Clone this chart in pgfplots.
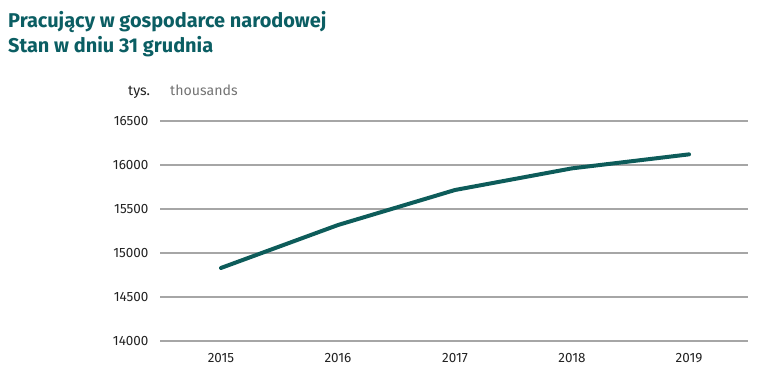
\documentclass[border=0pt]{standalone}
\usepackage{pgfplots}
\pgfplotsset{compat=1.18}
\usepackage{fontspec}
\setmainfont{Fira Sans}
\definecolor{teal1}{HTML}{0B5E63}
\definecolor{lineC}{HTML}{0D5C5A}
\definecolor{gridC}{HTML}{A6A6A6}
\definecolor{tickC}{HTML}{222222}
\begin{document}
\begin{tikzpicture}[x=1bp,y=1bp]
\useasboundingbox (0,0) rectangle (775,391);
\node[anchor=base west,inner sep=0,text=teal1,font=\bfseries\fontsize{20}{22}\selectfont] at (8,364) {Pracujący w gospodarce narodowej};
\node[anchor=base west,inner sep=0,text=teal1,font=\bfseries\fontsize{20}{22}\selectfont] at (8,339) {Stan w dniu 31 grudnia};
\node[anchor=base west,inner sep=0,text=tickC,font=\fontsize{14.2}{16}\selectfont] at (128,296) {tys.};
\node[anchor=base west,inner sep=0,text=gray!90!black,font=\fontsize{14.2}{16}\selectfont] at (170,296) {thousands};
\begin{axis}[
  at={(160bp,50bp)}, anchor=south west,
  scale only axis, width=588bp, height=220bp,
  xmin=2014.479, xmax=2019.504, ymin=14000, ymax=16500,
  xtick={2015,2016,2017,2018,2019},
  ytick={14000,14500,15000,15500,16000,16500},
  scaled y ticks=false,
  axis line style={draw=none},
  major tick length=0pt,
  ymajorgrids, grid style={gridC, line width=1.1pt},
  /pgf/number format/assume math mode=true,
  /pgf/number format/set thousands separator={},
  xticklabel style={font=\fontsize{13.5}{15}\selectfont, text=tickC, yshift=-9bp},
  yticklabel style={font=\fontsize{13.5}{15}\selectfont, text=tickC, xshift=-8bp},
  clip=false,
]
\addplot[lineC, line width=4pt, line cap=round, line join=round] coordinates {
  (2015,14830) (2016,15318) (2017,15716) (2018,15962) (2019,16121)
};
\end{axis}
\end{tikzpicture}
\end{document}
